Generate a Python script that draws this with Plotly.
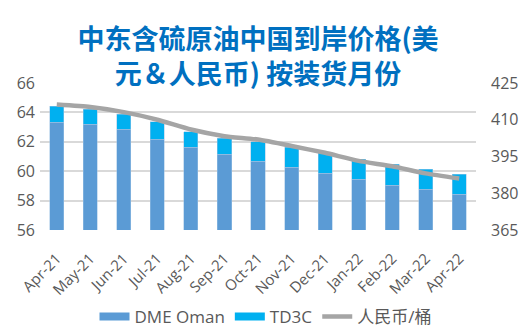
import plotly.graph_objects as go

months = ["Apr-21", "May-21", "Jun-21", "Jul-21", "Aug-21", "Sep-21", "Oct-21",
          "Nov-21", "Dec-21", "Jan-22", "Feb-22", "Mar-22", "Apr-22"]
dme_oman = [63.33, 63.19, 62.85, 62.17, 61.63, 61.15, 60.69, 60.27, 59.86, 59.45, 59.04, 58.77, 58.43]
td3c = [1.10, 1.02, 1.02, 1.20, 1.06, 1.09, 1.31, 1.36, 1.43, 1.36, 1.43, 1.36, 1.36]
rmb_per_bbl = [416.2, 415.2, 413.1, 410.0, 406.0, 403.3, 401.9, 399.3, 396.5, 393.2, 391.0, 388.1, 386.0]

C_DME = "#5B9BD5"
C_TD3C = "#00B0F0"
C_RMB = "#A5A5A5"

tick_font = dict(family="Open Sans, Noto Sans, sans-serif", size=16, color="#595959")

fig = go.Figure()
fig.add_trace(go.Bar(x=months, y=dme_oman, name="DME Oman", showlegend=False,
                     marker=dict(color=C_DME, line=dict(color="#9DC3E6", width=0.5))))
fig.add_trace(go.Bar(x=months, y=td3c, name="TD3C", showlegend=False,
                     marker=dict(color=C_TD3C, line=dict(color="#9DC3E6", width=0.5))))
fig.add_trace(go.Scatter(x=months, y=rmb_per_bbl, name="人民币/桶", yaxis="y2", mode="lines", showlegend=False,
                         line=dict(color=C_RMB, width=4.5, shape="spline", smoothing=0.5)))

# legend entries (wide flat swatches like the reference)
for nm, col, w in [("DME Oman", C_DME, 8), ("TD3C", C_TD3C, 8), ("人民币/桶", C_RMB, 4.5)]:
    fig.add_trace(go.Scatter(x=[None], y=[None], name=nm, mode="lines", line=dict(color=col, width=w)))

fig.update_layout(
    width=531, height=335,
    barmode="stack", bargap=0.58,
    plot_bgcolor="white", paper_bgcolor="white",
    margin=dict(l=40, r=55, t=83, b=105),
    title=dict(text="<b>中东含硫原油中国到岸价格(美<br>元＆人民币) 按装货月份</b>",
               x=0.5, xanchor="center", xref="paper", yref="container", y=1 - 49/335, yanchor="middle",
               font=dict(family="Noto Sans CJK SC", size=27, color="#0070C0")),
    xaxis=dict(tickangle=-45, tickfont=dict(family="Open Sans, Noto Sans, sans-serif", size=15, color="#595959"),
               showline=False, ticks="", ticklabelstandoff=16, automargin=False),
    yaxis=dict(range=[56, 66], dtick=2, tickfont=tick_font, showgrid=True, gridcolor="#D9D9D9", gridwidth=1.5,
               zeroline=False, ticks="", ticklabelstandoff=4, automargin=False),
    yaxis2=dict(range=[365, 425], tick0=365, dtick=15, overlaying="y", side="right", tickfont=tick_font,
                showgrid=False, zeroline=False, ticks="", ticklabelstandoff=14, automargin=False),
    legend=dict(orientation="h", x=0.5, xanchor="center", xref="container", y=0, yref="container",
                yanchor="bottom",
                font=dict(family="Open Sans, Noto Sans CJK SC, sans-serif", size=17, color="#595959"),
                traceorder="normal"),
    showlegend=True,
)

fig.write_html("out.html")
